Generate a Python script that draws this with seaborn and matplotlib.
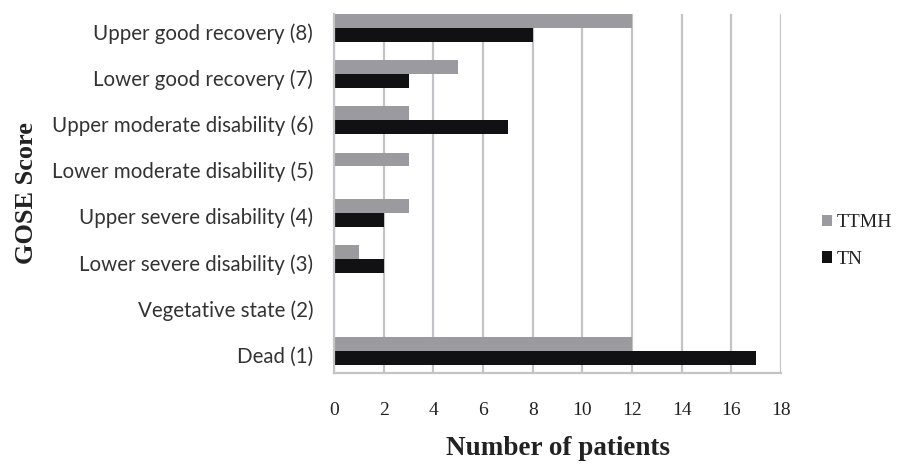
import matplotlib
matplotlib.use("Agg")
import matplotlib.pyplot as plt
import matplotlib.transforms as mtransforms
import seaborn as sns
import pandas as pd
from matplotlib.patches import Patch

categories = ["Upper good recovery (8)", "Lower good recovery (7)",
              "Upper moderate disability (6)", "Lower moderate disability (5)",
              "Upper severe disability (4)", "Lower severe disability (3)",
              "Vegetative state (2)", "Dead (1)"]
ttmh = [12, 5, 3, 3, 3, 1, 0, 12]
tn = [8, 3, 7, 0, 2, 2, 0, 17]
series = ["TTMH", "TN"]
colors = ["#9b9b9f", "#111114"]
xticks = [0, 2, 4, 6, 8, 10, 12, 14, 16, 18]

df = pd.DataFrame({
    "category": categories * 2,
    "value": ttmh + tn,
    "series": [series[0]] * len(categories) + [series[1]] * len(categories),
})

sns.set_theme(style="white")
fig = plt.figure(figsize=(9.02, 4.68), dpi=100)
ax = fig.add_axes([334 / 902, 95 / 468, 447 / 902, 359 / 468])

sns.barplot(data=df, x="value", y="category", hue="series", order=categories,
            hue_order=series, palette=colors, orient="h", width=0.6,
            saturation=1, ax=ax, legend=False, edgecolor="none", linewidth=0)

ax.set_xlim(0, 18)
ax.set_ylim(7.47, -0.3)
ax.set_xticks(xticks)
ax.set_xticklabels([str(t) for t in xticks], family="Liberation Serif",
                   fontsize=14, color="#222222")
ax.grid(axis="x", color="#c4c4c8", linewidth=1.6)
ax.grid(axis="y", visible=False)
ax.set_axisbelow(True)
for s in ["top", "right"]:
    ax.spines[s].set_visible(False)
for s in ["left", "bottom"]:
    ax.spines[s].set_color("#c4c4c8")
    ax.spines[s].set_linewidth(1.6)
ax.tick_params(axis="x", direction="out", length=6, width=1.6, color="#c4c4c8", pad=15)
ax.tick_params(axis="y", length=0, pad=15)
shift = mtransforms.ScaledTranslation(0, -2.5 / 72, fig.dpi_scale_trans)
for lab in ax.get_yticklabels():
    lab.set_family("Lato")
    lab.set_fontsize(14.8)
    lab.set_color("#333333")
    lab.set_transform(lab.get_transform() + shift)

ax.set_ylabel("GOSE Score", family="Liberation Serif", fontweight="bold",
              fontsize=19, color="#222222", labelpad=10)
ax.set_xlabel("Number of patients", family="Liberation Serif", fontweight="bold",
              fontsize=19.5, color="#222222", labelpad=12)

handles = [Patch(facecolor=c, edgecolor="none", label=s) for c, s in zip(colors, series)]
leg = fig.legend(handles=handles, loc="center left", bbox_to_anchor=(0.900, 0.485),
                 frameon=False, handlelength=0.55, handleheight=0.55,
                 handletextpad=0.25, labelspacing=1.0, borderpad=0,
                 prop={"family": "Liberation Serif", "size": 14})
for t in leg.get_texts():
    t.set_color("#222222")

fig.savefig("out.png", dpi=100)
